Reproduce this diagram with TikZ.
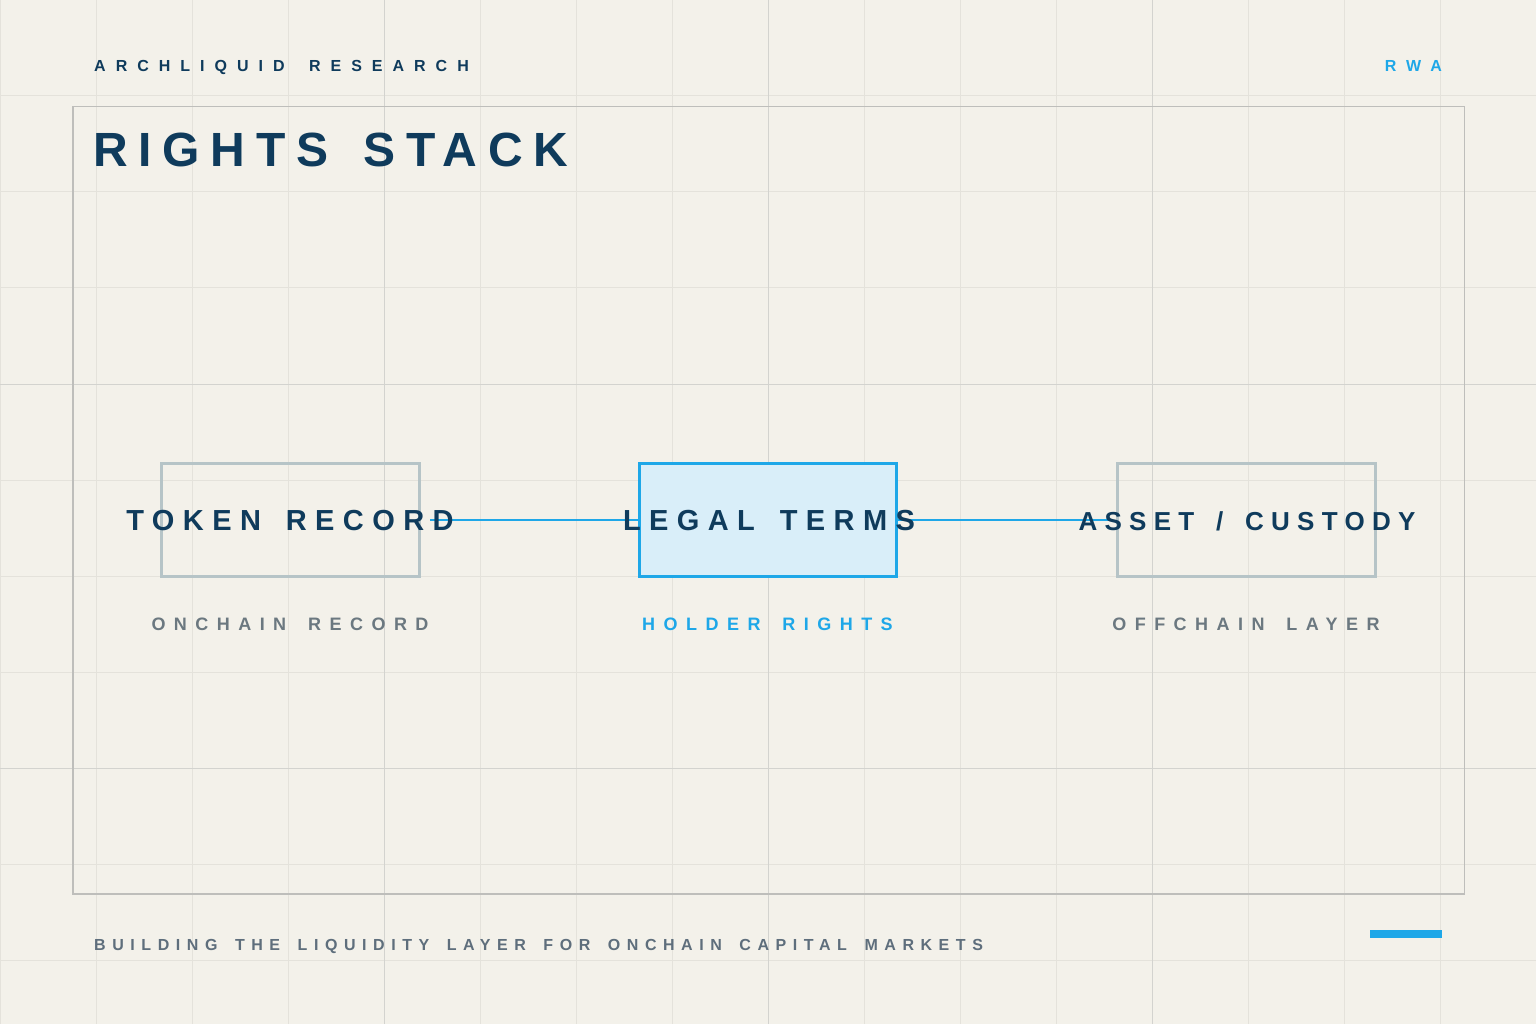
\documentclass[tikz,border=0pt]{standalone}
\usepackage{fontspec}
\setmainfont{Liberation Sans}
\newfontfamily\fhdr[LetterSpace=62.5]{Liberation Sans}
\newfontfamily\ftitle[LetterSpace=22.5]{Liberation Sans}
\newfontfamily\fboxlbl[LetterSpace=29]{Liberation Sans}
\newfontfamily\fboxlblb[LetterSpace=28]{Liberation Sans}
\newfontfamily\fsub[LetterSpace=47]{Liberation Sans}
\newfontfamily\ffoot[LetterSpace=41]{Liberation Sans}
\usetikzlibrary{calc}
\definecolor{bg}{HTML}{F3F1EA}
\definecolor{gridminor}{HTML}{E4E2DB}
\definecolor{gridmajor}{HTML}{D3D3CF}
\definecolor{framec}{HTML}{BEBEBB}
\definecolor{navy}{HTML}{0F3B5C}
\definecolor{accent}{HTML}{1EA7E8}
\definecolor{subgray}{HTML}{6B7880}
\definecolor{footgray}{HTML}{5E6E7C}
\definecolor{boxgray}{HTML}{B6C4C7}
\definecolor{boxfill}{HTML}{D9EEF9}
\tikzset{
  graybox/.style={draw=boxgray, line width=3pt, minimum width=258pt, minimum height=113pt, inner sep=0pt},
  bluebox/.style={draw=accent, fill=boxfill, line width=3pt, minimum width=257pt, minimum height=113pt, inner sep=0pt},
  boxlabel/.style={inner sep=0pt, anchor=base, text=navy, font=\fboxlbl\bfseries\fontsize{29}{29}\selectfont},
  boxlabelsmall/.style={inner sep=0pt, anchor=base, text=navy, font=\fboxlblb\bfseries\fontsize{26}{26}\selectfont},
  sublabel/.style={inner sep=0pt, anchor=base, font=\fsub\bfseries\fontsize{18}{18}\selectfont},
  link/.style={draw=accent, line width=2pt},
}
\begin{document}
\begin{tikzpicture}[x=1pt,y=-1pt]
\useasboundingbox (0,0) rectangle (1536,1024);
\fill[bg] (0,0) rectangle (1536,1024);
% grid
\foreach \i in {0,96,...,1536} {\draw[gridminor, line width=1pt] (\i,0) -- (\i,1024);}
\foreach \j in {0,96,...,1024} {\draw[gridminor, line width=1pt] (0,\j) -- (1536,\j);}
\foreach \i in {384,768,1152} {\draw[gridmajor, line width=1pt] (\i,0) -- (\i,1024);}
\foreach \j in {384,768} {\draw[gridmajor, line width=1pt] (0,\j) -- (1536,\j);}
% frame
\draw[framec, line width=1.5pt] (72.75,106.75) rectangle (1464.25,893.75);
% header
\node[inner sep=0pt, anchor=base west, text=navy, font=\fhdr\bfseries\fontsize{16}{16}\selectfont] (brand) at (94,72) {ARCHLIQUID \hspace{0.625em}RESEARCH};
\node[inner sep=0pt, anchor=base east, text=accent, font=\fhdr\bfseries\fontsize{16}{16}\selectfont] (tag) at (1442,72) {RWA};
\node[inner sep=0pt, anchor=base west, text=navy, font=\ftitle\bfseries\fontsize{48}{48}\selectfont] (title) at (93,167) {RIGHTS \hspace{0.225em}STACK};
% boxes
\node[graybox] (tok) at (290.5,520) {};
\node[graybox] (ast) at (1246.5,520) {};
\coordinate (tokout) at ($(tok.east)+(9,0)$);
\coordinate (astin) at ($(ast.west)+(-6,0)$);
\draw[link] (tokout) -- (768,520);
\draw[link] (768,520) -- (astin);
\node[bluebox] (leg) at (768,520) {};
% labels
\node[boxlabel] (tokt) at (290,530) {TOKEN \hspace{0.29em}RECORD};
\node[boxlabel] (legt) at (769,530) {LEGAL \hspace{0.29em}TERMS};
\node[boxlabelsmall] (astt) at (1247,530) {ASSET \hspace{0.28em}/ \hspace{0.28em}CUSTODY};
\node[sublabel, text=subgray] (toks) at (290,630) {ONCHAIN \hspace{0.47em}RECORD};
\node[sublabel, text=accent] (legs) at (767.5,630) {HOLDER \hspace{0.47em}RIGHTS};
\node[sublabel, text=subgray] (asts) at (1246,630) {OFFCHAIN \hspace{0.47em}LAYER};
% footer
\node[inner sep=0pt, anchor=base west, text=footgray, font=\ffoot\bfseries\fontsize{16}{16}\selectfont] (foot) at (94,950) {BUILDING \hspace{0.41em}THE \hspace{0.41em}LIQUIDITY \hspace{0.41em}LAYER \hspace{0.41em}FOR \hspace{0.41em}ONCHAIN \hspace{0.41em}CAPITAL \hspace{0.41em}MARKETS};
\fill[accent] (1370,930) rectangle (1442,938);
\end{tikzpicture}
\end{document}
